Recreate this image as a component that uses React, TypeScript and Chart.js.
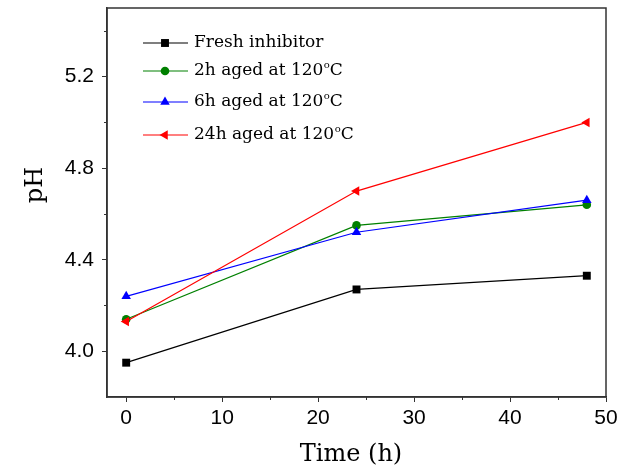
import React, { useEffect, useRef } from "react";
import { Chart, registerables } from "chart.js";

Chart.register(...registerables);

const timesH = [0, 24, 48];
const seriesNames = ["Fresh inhibitor", "2h aged at 120", "6h aged at 120", "24h aged at 120"];
const seriesSup = ["", "o", "o", "o"];
const seriesSuffix = ["", "C", "C", "C"];
const freshPH = [3.95, 4.27, 4.33];
const aged2hPH = [4.14, 4.55, 4.64];
const aged6hPH = [4.24, 4.52, 4.66];
const aged24hPH = [4.13, 4.70, 5.0];
const seriesColors = ["#000000", "#008000", "#0000ff", "#ff0000"];
const seriesStyles = ["rect", "circle", "triangle", "triangle"];
const seriesRotation = [0, 0, 0, -90];
const seriesRadius = [5.6, 4.3, 5.5, 5.5];
const xMajorTicks = [0, 10, 20, 30, 40, 50];
const xMinorTicks = [5, 15, 25, 35, 45];
const yMajorTicks = [4.0, 4.4, 4.8, 5.2];
const yMinorTicks = [4.2, 4.6, 5.0, 5.4];
const legendRows = [43, 71, 102, 135];

function drawMarker(ctx: CanvasRenderingContext2D, style: string, rot: number, r: number, x: number, y: number, color: string) {
  ctx.save();
  ctx.fillStyle = color;
  ctx.beginPath();
  if (style === "rect") {
    const s = r * Math.SQRT1_2;
    ctx.rect(x - s, y - s, 2 * s, 2 * s);
  } else if (style === "circle") {
    ctx.arc(x, y, r, 0, Math.PI * 2);
  } else {
    let rad = (rot * Math.PI) / 180;
    ctx.moveTo(x + Math.sin(rad) * r, y - Math.cos(rad) * r);
    rad += (2 * Math.PI) / 3;
    ctx.lineTo(x + Math.sin(rad) * r, y - Math.cos(rad) * r);
    rad += (2 * Math.PI) / 3;
    ctx.lineTo(x + Math.sin(rad) * r, y - Math.cos(rad) * r);
    ctx.closePath();
  }
  ctx.fill();
  ctx.restore();
}

const framePlugin = {
  id: "frame",
  afterDraw(chart: any) {
    const { ctx, chartArea, scales } = chart;
    const { left, top, right, bottom } = chartArea;
    const x = scales.x;
    const y = scales.y;
    ctx.save();
    ctx.strokeStyle = "#333";
    ctx.lineWidth = 1.5;
    ctx.strokeRect(left, top, right - left, bottom - top);
    ctx.lineWidth = 1;
    ctx.beginPath();
    xMinorTicks.forEach((v) => {
      const px = Math.round(x.getPixelForValue(v)) + 0.5;
      ctx.moveTo(px, bottom);
      ctx.lineTo(px, bottom + 3);
    });
    yMinorTicks.forEach((v) => {
      const py = Math.round(y.getPixelForValue(v)) + 0.5;
      ctx.moveTo(left, py);
      ctx.lineTo(left - 3, py);
    });
    ctx.stroke();

    // axis titles
    ctx.fillStyle = "#000";
    ctx.font = '24px "DejaVu Serif"';
    ctx.textAlign = "center";
    ctx.textBaseline = "alphabetic";
    ctx.fillText("Time (h)", 351, 461);
    ctx.save();
    ctx.translate(42, 185);
    ctx.rotate(-Math.PI / 2);
    ctx.fillText("pH", 0, 0);
    ctx.restore();

    // legend
    ctx.textAlign = "left";
    ctx.textBaseline = "middle";
    legendRows.forEach((ry, i) => {
      ctx.strokeStyle = seriesColors[i];
      ctx.lineWidth = 1.2;
      ctx.beginPath();
      ctx.moveTo(143, ry);
      ctx.lineTo(188, ry);
      ctx.stroke();
      drawMarker(ctx, seriesStyles[i], seriesRotation[i], seriesRadius[i], 165, ry, seriesColors[i]);
      ctx.fillStyle = "#000";
      ctx.font = '17px "DejaVu Serif"';
      let tx = 194;
      ctx.fillText(seriesNames[i], tx, ry);
      tx += ctx.measureText(seriesNames[i]).width;
      if (seriesSup[i]) {
        ctx.font = '10px "DejaVu Serif"';
        ctx.fillText(seriesSup[i], tx + 0.5, ry - 6);
        tx += ctx.measureText(seriesSup[i]).width + 0.5;
        ctx.font = '17px "DejaVu Serif"';
        ctx.fillText(seriesSuffix[i], tx, ry);
      }
    });
    ctx.restore();
  },
};

function zeroPad(s: any) {
  s.paddingTop = 0;
  s.paddingBottom = 0;
  s.paddingLeft = 0;
  s.paddingRight = 0;
}

export default function App() {
  const ref = useRef<HTMLCanvasElement | null>(null);
  useEffect(() => {
    if (!ref.current) return;
    const allData = [freshPH, aged2hPH, aged6hPH, aged24hPH];
    const chart = new Chart(ref.current, {
      type: "line",
      data: {
        datasets: allData.map((vals, i) => ({
          label: seriesNames[i],
          data: timesH.map((t, j) => ({ x: t, y: vals[j] })),
          borderColor: seriesColors[i],
          backgroundColor: seriesColors[i],
          borderWidth: 1.2,
          pointStyle: seriesStyles[i] as any,
          pointRotation: seriesRotation[i],
          pointRadius: seriesRadius[i],
          pointBorderWidth: 0,
          order: 3 - i,
          tension: 0,
        })),
      },
      options: {
        responsive: false,
        animation: false,
        layout: { padding: { top: 8, right: 13, left: 0, bottom: 0 } },
        plugins: { legend: { display: false }, tooltip: { enabled: false } },
        scales: {
          x: {
            type: "linear",
            min: -2,
            max: 50,
            afterBuildTicks: (s: any) => {
              s.ticks = xMajorTicks.map((v) => ({ value: v }));
            },
            afterFit: (s: any) => {
              s.height = 70;
              zeroPad(s);
            },
            grid: { drawOnChartArea: false, drawTicks: true, tickLength: 5, tickColor: "#333", lineWidth: 1 },
            border: { display: true, color: "#333", width: 1.5 },
            ticks: {
              color: "#000",
              font: { family: "Liberation Sans", size: 21 },
              padding: 4,
              maxRotation: 0,
              callback: (v: any) => String(v),
            },
          },
          y: {
            type: "linear",
            min: 3.8,
            max: 5.5,
            afterBuildTicks: (s: any) => {
              s.ticks = yMajorTicks.map((v) => ({ value: v }));
            },
            afterFit: (s: any) => {
              s.width = 107;
              zeroPad(s);
            },
            grid: { drawOnChartArea: false, drawTicks: true, tickLength: 5, tickColor: "#333", lineWidth: 1 },
            border: { display: true, color: "#333", width: 1.5 },
            ticks: {
              color: "#000",
              font: { family: "Liberation Sans", size: 21 },
              padding: 8,
              callback: (v: any) => Number(v).toFixed(1),
            },
          },
        },
      },
      plugins: [framePlugin],
    });
    return () => chart.destroy();
  }, []);
  return (
    <div style={{ position: "absolute", left: 0, top: 0, width: 619, height: 467, background: "#fff" }}>
      <canvas ref={ref} width={619} height={467} />
    </div>
  );
}
